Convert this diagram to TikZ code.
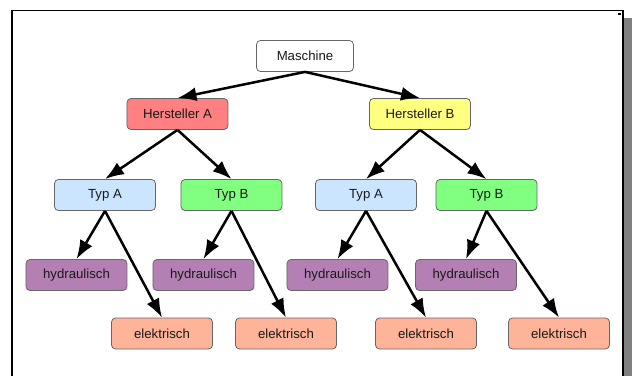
\documentclass[tikz,border=0pt]{standalone}
\usepackage{fontspec}
\setmainfont{Liberation Sans}
\usetikzlibrary{arrows.meta}

\definecolor{rotA}{RGB}{255,128,128}
\definecolor{gelbB}{RGB}{255,255,128}
\definecolor{blauTyp}{RGB}{204,229,255}
\definecolor{gruenTyp}{RGB}{128,255,128}
\definecolor{lilaHyd}{RGB}{180,128,180}
\definecolor{lachsEl}{RGB}{255,179,153}

\begin{document}
\begin{tikzpicture}[x=0.5pt,y=-0.5pt,
  box/.style={draw=black!60,rounded corners=2pt,minimum width=50.5pt,minimum height=15.5pt,
    inner sep=0pt,text=black!90,font=\fontsize{6.6}{8}\selectfont},
  pfeil/.style={-{Latex[length=9.5pt,width=7pt]},line width=1.25pt}]
  \useasboundingbox (0,0) rectangle (634,376);

  % Rahmen
  \draw[line width=0.75pt] (12,376) -- (12,10.5) -- (623,10.5) -- (623,376);
  \fill[black!50] (624,18) rectangle (632,376);
  \fill (618,13) rectangle (621,15);

  \node[box,fill=white,minimum width=48.5pt] (masch) at (305,56) {Maschine};

  \node[box,fill=rotA]  (herstA) at (177.5,114) {Hersteller A};
  \node[box,fill=gelbB] (herstB) at (420,114)   {Hersteller B};

  \node[box,fill=blauTyp]  (typAa) at (105,195)   {Typ A};
  \node[box,fill=gruenTyp] (typBa) at (231.5,195) {Typ B};
  \node[box,fill=blauTyp]  (typAb) at (366,195)   {Typ A};
  \node[box,fill=gruenTyp] (typBb) at (486.5,195) {Typ B};

  \node[box,fill=lilaHyd] (hyd1) at (76.5,275)  {hydraulisch};
  \node[box,fill=lilaHyd] (hyd2) at (203.5,275) {hydraulisch};
  \node[box,fill=lilaHyd] (hyd3) at (337.5,275) {hydraulisch};
  \node[box,fill=lilaHyd] (hyd4) at (466,275)   {hydraulisch};

  \node[box,fill=lachsEl] (el1) at (162,333.5) {elektrisch};
  \node[box,fill=lachsEl] (el2) at (286,333.5) {elektrisch};
  \node[box,fill=lachsEl] (el3) at (426,333.5) {elektrisch};
  \node[box,fill=lachsEl] (el4) at (559,333.5) {elektrisch};

  \foreach \von/\nach in {masch/herstA,masch/herstB,herstA/typAa,herstA/typBa,herstB/typAb,herstB/typBb,
    typAa/hyd1,typAa/el1,typBa/hyd2,typBa/el2,typAb/hyd3,typAb/el3,typBb/hyd4,typBb/el4}{
    \draw[pfeil] (\von.south) -- (\nach.north);
  }
\end{tikzpicture}
\end{document}
